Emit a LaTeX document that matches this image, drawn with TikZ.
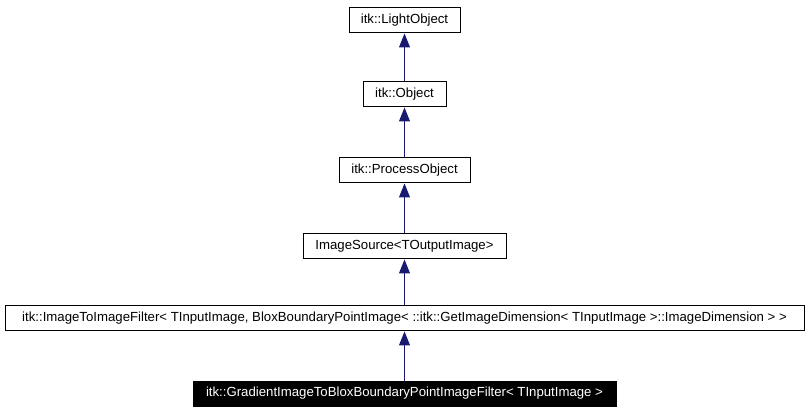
\documentclass[tikz,border=0pt]{standalone}
\usepackage{fontspec}
\setmainfont{Liberation Sans}
\usetikzlibrary{arrows.meta}
\definecolor{edgeblue}{HTML}{191970}
\begin{document}
\begin{tikzpicture}[x=1pt,y=-1pt,
  box/.style={draw=black,line width=1pt,fill=white,minimum height=25pt,inner sep=0pt,font=\fontsize{13.2pt}{15pt}\selectfont},
  dark/.style={box,fill=black,text=white},
  inherit/.style={draw=edgeblue,line width=1pt,-{Triangle[length=14pt,width=11pt]}}]
\useasboundingbox (0,0) rectangle (808,411);
\node[box,minimum width=111pt] (light) at (404.5,20.5) {itk::LightObject};
\node[box,minimum width=83pt] (obj) at (404.5,94.5) {itk::Object};
\node[box,minimum width=131pt] (proc) at (404.5,170.5) {itk::ProcessObject};
\node[box,minimum width=203pt] (src) at (404.5,246.5) {ImageSource<TOutputImage>};
\node[box,minimum width=799pt] (i2i) at (404.5,318.5) {itk::ImageToImageFilter< TInputImage, BloxBoundaryPointImage< ::itk::GetImageDimension< TInputImage >::ImageDimension > >};
\node[dark,minimum width=423pt] (grad) at (404.5,393.5) {itk::GradientImageToBloxBoundaryPointImageFilter< TInputImage >};
\draw[inherit] (obj.north) -- (light.south);
\draw[inherit] (proc.north) -- (obj.south);
\draw[inherit] (src.north) -- (proc.south);
\draw[inherit] (i2i.north) -- (src.south);
\draw[inherit] (grad.north) -- (i2i.south);
\end{tikzpicture}
\end{document}
